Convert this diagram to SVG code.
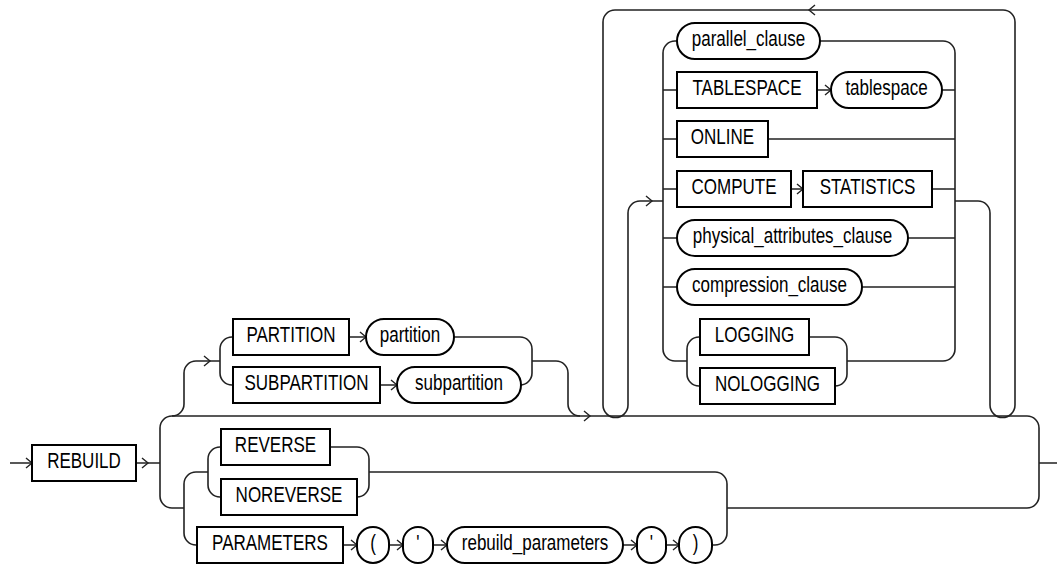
<svg xmlns="http://www.w3.org/2000/svg" width="1057" height="567" viewBox="0 0 1057 567">
<style>
.bx{fill:#fff;stroke:#000;stroke-width:2}
.ln{fill:none;stroke:#222;stroke-width:1.6}
.ar{fill:none;stroke:#222;stroke-width:1.4}
.t{font-family:"Liberation Sans",Arial,sans-serif;font-size:22px;fill:#000;text-anchor:middle;transform:scaleX(0.773);transform-box:fill-box;transform-origin:center}
</style>
<rect width="1057" height="567" fill="#fff"/>
<g id="connectors">
<path class="ln" d="M10,463 H32 M136,463 H160"/>
<path class="ln" d="M160,428 A12,12 0 0 1 172,416 H1027 A12,12 0 0 1 1039,428 V496 A12,12 0 0 1 1027,508 H727 M1039,463 H1057"/>
<path class="ln" d="M160,428 V496 A12,12 0 0 0 172,508 H184"/>
<path class="ln" d="M172,416 A12,12 0 0 0 184,404 V373 A12,12 0 0 1 196,361 H220"/>
<path class="ln" d="M233,337 H232 A12,12 0 0 0 220,349 V373 A12,12 0 0 0 232,385 H233"/>
<path class="ln" d="M349,337 H366 M380,385 H397"/>
<path class="ln" d="M454,337 H520 A12,12 0 0 1 532,349 V373 A12,12 0 0 1 520,385 H521 M532,361 H556 A12,12 0 0 1 568,373 V404 A12,12 0 0 0 580,416"/>
<path class="ln" d="M615,10 A12,12 0 0 0 603,22 V405 A12.5,12.5 0 0 0 628,405 V213 A12,12 0 0 1 640,201 H663"/>
<path class="ln" d="M955,201 H978 A12,12 0 0 1 990,213 V405 A12.5,12.5 0 0 0 1015,405 V22 A12,12 0 0 0 1003,10 H615"/>
<path class="ln" d="M677,41 H675 A12,12 0 0 0 663,53 V349 A12,12 0 0 0 675,361 H687"/>
<path class="ln" d="M820,41 H943 A12,12 0 0 1 955,53 V349 A12,12 0 0 1 943,361 H847"/>
<path class="ln" d="M663,90 H677 M817,90 H831 M942,90 H955 M663,139 H677 M768,139 H955 M663,189 H677 M791,189 H803 M932,189 H955 M663,238 H677 M908,238 H955 M663,287 H677 M862,287 H955"/>
<path class="ln" d="M700,337 H699 A12,12 0 0 0 687,349 V374 A12,12 0 0 0 699,386 H700 M809,337 H835 A12,12 0 0 1 847,349 V374 A12,12 0 0 1 835,386"/>
<path class="ln" d="M208,472 H196 A12,12 0 0 0 184,484 V533 A12,12 0 0 0 196,545 H197"/>
<path class="ln" d="M221,447 H220 A12,12 0 0 0 208,459 V485 A12,12 0 0 0 220,497 H221"/>
<path class="ln" d="M330,447 H357 A12,12 0 0 1 369,459 V485 A12,12 0 0 1 357,497 M369,472 H715 A12,12 0 0 1 727,484 V533 A12,12 0 0 1 715,545 H712"/>
<path class="ln" d="M343,545 H357 M389,545 H403 M433,545 H447 M623,545 H637 M666,545 H679"/>
<path class="ar" d="M26,458 L32,463 L26,468 M142,458 L148,463 L142,468 M584,411 L590,416 L584,421 M815,5 L809,10 L815,15 M204,356 L210,361 L204,366 M360,332 L366,337 L360,342 M391,380 L397,385 L391,390 M646,196 L652,201 L646,206 M825,85 L831,90 L825,95 M797,184 L803,189 L797,194 M351,540 L357,545 L351,550 M397,540 L403,545 L397,550 M441,540 L447,545 L441,550 M631,540 L637,545 L631,550 M673,540 L679,545 L673,550"/>
</g>
<g id="n-rebuild"><rect class="bx" x="32" y="445" width="104" height="36"/><text class="t" x="84" y="468">REBUILD</text></g>
<g id="n-partition-kw"><rect class="bx" x="233" y="319" width="116" height="36"/><text class="t" x="291" y="342">PARTITION</text></g>
<g id="n-partition"><rect class="bx" x="366" y="319" width="88" height="36" rx="18"/><text class="t" x="410" y="342">partition</text></g>
<g id="n-subpartition-kw"><rect class="bx" x="233" y="367" width="147" height="36"/><text class="t" x="306.5" y="390">SUBPARTITION</text></g>
<g id="n-subpartition"><rect class="bx" x="397" y="367" width="124" height="36" rx="18"/><text class="t" x="459" y="390">subpartition</text></g>
<g id="n-parallel"><rect class="bx" x="677" y="23" width="143" height="36" rx="18"/><text class="t" x="748.5" y="46">parallel_clause</text></g>
<g id="n-tablespace-kw"><rect class="bx" x="677" y="72" width="140" height="36"/><text class="t" x="747" y="95">TABLESPACE</text></g>
<g id="n-tablespace"><rect class="bx" x="831" y="72" width="111" height="36" rx="18"/><text class="t" x="886.5" y="95">tablespace</text></g>
<g id="n-online"><rect class="bx" x="677" y="121" width="91" height="36"/><text class="t" x="722.5" y="144">ONLINE</text></g>
<g id="n-compute"><rect class="bx" x="677" y="171" width="114" height="36"/><text class="t" x="734" y="194">COMPUTE</text></g>
<g id="n-statistics"><rect class="bx" x="803" y="171" width="129" height="36"/><text class="t" x="867.5" y="194">STATISTICS</text></g>
<g id="n-physical"><rect class="bx" x="677" y="220" width="231" height="36" rx="18"/><text class="t" x="792.5" y="243">physical_attributes_clause</text></g>
<g id="n-compression"><rect class="bx" x="677" y="269" width="185" height="36" rx="18"/><text class="t" x="769.5" y="292">compression_clause</text></g>
<g id="n-logging"><rect class="bx" x="700" y="319" width="109" height="36"/><text class="t" x="754.5" y="342">LOGGING</text></g>
<g id="n-nologging"><rect class="bx" x="700" y="368" width="135" height="36"/><text class="t" x="767.5" y="391">NOLOGGING</text></g>
<g id="n-reverse"><rect class="bx" x="221" y="429" width="109" height="36"/><text class="t" x="275.5" y="452">REVERSE</text></g>
<g id="n-noreverse"><rect class="bx" x="221" y="479" width="136" height="36"/><text class="t" x="289" y="502">NOREVERSE</text></g>
<g id="n-parameters"><rect class="bx" x="197" y="527" width="146" height="36"/><text class="t" x="270" y="550">PARAMETERS</text></g>
<g id="n-lparen"><rect class="bx" x="357" y="527" width="32" height="36" rx="16"/><text class="t" x="373" y="550">(</text></g>
<g id="n-quote1"><rect class="bx" x="403" y="527" width="30" height="36" rx="15"/><text class="t" x="418" y="550">'</text></g>
<g id="n-rebuild-params"><rect class="bx" x="447" y="527" width="176" height="36" rx="18"/><text class="t" x="535" y="550">rebuild_parameters</text></g>
<g id="n-quote2"><rect class="bx" x="637" y="527" width="29" height="36" rx="14.5"/><text class="t" x="651.5" y="550">'</text></g>
<g id="n-rparen"><rect class="bx" x="679" y="527" width="33" height="36" rx="16.5"/><text class="t" x="695.5" y="550">)</text></g>
</svg>
